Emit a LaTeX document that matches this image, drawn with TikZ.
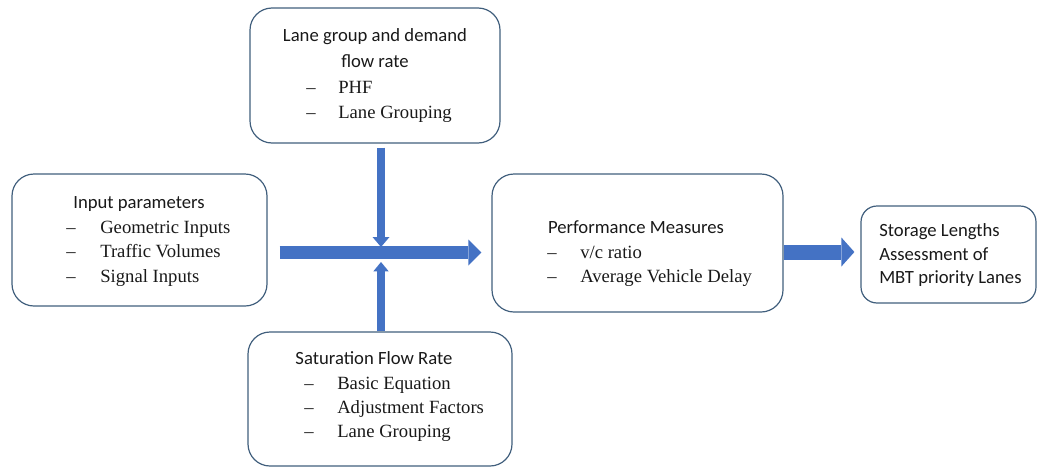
\documentclass[tikz,border=0pt]{standalone}
\usepackage{fontspec}
\setmainfont{Liberation Serif}
\newfontfamily\calfont{Carlito}
\usetikzlibrary{arrows.meta,fit}
\definecolor{boxline}{RGB}{65,95,125}
\definecolor{arrowblue}{RGB}{68,114,196}
\definecolor{txt}{RGB}{25,25,25}
\begin{document}
\begin{tikzpicture}[x=0.75pt,y=-0.75pt,
  box/.style={draw=boxline, line width=0.9pt, rounded corners=16.5pt, inner sep=0pt},
  hd/.style={font=\calfont\fontsize{14}{17}\selectfont, text=txt, inner sep=0pt, anchor=base},
  hdl/.style={font=\calfont\fontsize{14}{17}\selectfont, text=txt, inner sep=0pt, anchor=base west},
  it/.style={font=\fontsize{14}{17}\selectfont, text=txt, inner sep=0pt, anchor=base west},
  blk/.style={draw=arrowblue, line width=#1}
]
\path[use as bounding box] (0,0) rectangle (1039,468);

% boxes
\node[box, fit={(250,8) (500,143)}] (top) {};
\node[box, fit={(12,174) (267,306)}] (left) {};
\node[box, fit={(492,174) (783,312)}] (mid) {};
\node[box, fit={(248,332) (512,466)}] (bot) {};
\node[box, rounded corners=12pt, fit={(861,206) (1036,303)}] (far) {};

% top box text
\node[hd] (t1) at (375,41) {Lane group and demand};
\node[hd] (t2) at (375,67) {flow rate};
\node[it] (t3d) at (306,93) {–};
\node[it] (t3) at (338,93) {PHF};
\node[it] (t4d) at (306,118) {–};
\node[it] (t4) at (338,118) {Lane Grouping};

% left box text
\node[hd] (l1) at (139,208) {Input parameters};
\node[it] (l2d) at (66,233) {–};
\node[it] (l2) at (100,233) {Geometric Inputs};
\node[it] (l3d) at (66,257) {–};
\node[it] (l3) at (100,257) {Traffic Volumes};
\node[it] (l4d) at (66,282) {–};
\node[it] (l4) at (100,282) {Signal Inputs};

% middle box text
\node[hd] (m1) at (636,233) {Performance Measures};
\node[it] (m2d) at (547,258) {–};
\node[it] (m2) at (580,258) {v/c ratio};
\node[it] (m3d) at (547,282) {–};
\node[it] (m3) at (580,282) {Average Vehicle Delay};

% bottom box text
\node[hd] (b1) at (374,364) {Saturation Flow Rate};
\node[it] (b2d) at (304,389) {–};
\node[it] (b2) at (337,389) {Basic Equation};
\node[it] (b3d) at (304,413) {–};
\node[it] (b3) at (337,413) {Adjustment Factors};
\node[it] (b4d) at (304,437) {–};
\node[it] (b4) at (337,437) {Lane Grouping};

% far right box text
\node[hdl] (f1) at (879,236) {Storage Lengths};
\node[hdl] (f2) at (879,260) {Assessment of};
\node[hdl] (f3) at (879,283) {MBT priority Lanes};

% connectors
\coordinate (X) at (381,252.5);
\coordinate (Xn) at (381,247);
\coordinate (Xs) at (381,262);
\coordinate (Y) at (800,252);

\draw[blk=6pt, -{Triangle[length=7.5pt,width=12.75pt,line width=0pt]}, shorten <=3pt]
  (top.south -| X) -- (Xn);
\draw[blk=6pt, -{Triangle[length=7pt,width=11.5pt,line width=0pt]}]
  (bot.north -| X) -- (Xs);
\draw[blk=9.75pt, -{Triangle[length=9.75pt,width=19.5pt,line width=0pt]}, shorten <=9pt, shorten >=7.5pt]
  (left.east |- X) -- (mid.west |- X);
\draw[blk=11.25pt, -{Triangle[length=9.75pt,width=21.75pt,line width=0pt]}, shorten >=4.5pt]
  (mid.east |- Y) -- (far.west |- Y);
\end{tikzpicture}
\end{document}
